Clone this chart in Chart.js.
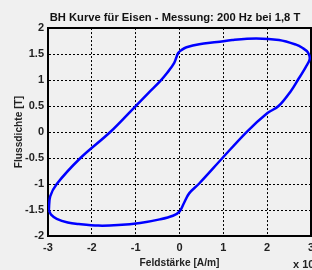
<!DOCTYPE html>
<html>
<head>
<meta charset="utf-8">
<script src="https://cdn.jsdelivr.net/npm/chart.js@4"></script>
<style>
  html, body { margin: 0; padding: 0; background: #f0f0f0; overflow: hidden; }
  #wrap { width: 312px; height: 270px; overflow: hidden; }
</style>
</head>
<body>
<div id="wrap"><canvas id="chart" width="350" height="270"></canvas></div>
<script>
// hysteresis loop, H in 10^4 A/m, B in T
const fieldStrength = [-2.98, -2.93, -2.80, -2.55, -2.30, -1.85, -1.40, -0.90, -0.45, -0.15, 0.00,
    0.10, 0.22, 0.45, 0.98, 1.53, 2.00, 2.26, 2.55, 2.70, 2.88, 2.97, 2.93, 2.80, 2.66, 2.27,
    1.75, 1.20, 0.86, 0.45, 0.16, 0.05, -0.03, -0.12, -0.28, -0.44, -0.70, -1.00, -1.58, -2.26,
    -2.80, -2.95, -2.98];
const fluxDensity = [-1.50, -1.59, -1.67, -1.74, -1.77, -1.80, -1.79, -1.75, -1.68, -1.61, -1.53,
    -1.37, -1.18, -0.99, -0.50, 0.00, 0.36, 0.50, 0.80, 1.00, 1.25, 1.40, 1.53, 1.62, 1.68, 1.77,
    1.80, 1.77, 1.73, 1.69, 1.63, 1.58, 1.52, 1.33, 1.14, 0.98, 0.76, 0.50, 0.00, -0.50,
    -1.00, -1.24, -1.50];

const xTickValues = [-3, -2, -1, 0, 1, 2, 3];
const xTickLabels = ['-3', '-2', '-1', '0', '1', '2', '3'];
const yTickValues = [-2, -1.5, -1, -0.5, 0, 0.5, 1, 1.5, 2];
const yTickLabels = ['-2', '-1.5', '-1', '-0.5', '0', '0.5', '1', '1.5', '2'];

const FONT = "'Liberation Sans Narrow', 'Arial Narrow', 'Liberation Sans', sans-serif";

const points = fieldStrength.map((h, i) => ({x: h, y: fluxDensity[i]}));

// "x 10^4" exponent note under the x axis
const exponentNote = {
    id: 'exponentNote',
    afterDraw(c) {
        const ctx = c.ctx;
        ctx.save();
        ctx.fillStyle = '#222';
        ctx.font = 'bold 11px ' + FONT;
        ctx.textBaseline = 'alphabetic';
        ctx.fillText('x 10', 293, 268);
        ctx.font = 'bold 8px ' + FONT;
        ctx.fillText('4', 314, 261);
        ctx.restore();
    }
};

new Chart(document.querySelector('#chart').getContext('2d'), {
    type: 'scatter',
    data: {
        datasets: [{
            label: 'BH',
            data: points,
            showLine: true,
            borderColor: '#0000ff',
            borderWidth: 2.5,
            pointRadius: 0,
            tension: 0.35
        }]
    },
    options: {
        responsive: false,
        animation: false,
        devicePixelRatio: 1,
        layout: { padding: 0 },
        plugins: {
            legend: { display: false },
            tooltip: { enabled: false },
            title: {
                display: true,
                text: 'BH Kurve für Eisen - Messung: 200 Hz bei 1,8 T',
                color: '#111',
                font: { family: FONT, size: 11.2, weight: 'bold' },
                padding: { top: 11, bottom: 3.6 }
            }
        },
        scales: {
            x: {
                type: 'linear',
                min: -3, max: 3,
                afterBuildTicks: s => { s.ticks = xTickValues.map(v => ({value: v})); },
                afterFit: s => { s.height = 34; },
                ticks: {
                    padding: 5,
                    color: '#222',
                    font: { family: FONT, size: 11, weight: 'bold' },
                    callback: (v, i) => xTickLabels[i]
                },
                grid: { color: '#000', lineWidth: 1, drawTicks: false },
                border: { display: true, color: '#000', width: 2, dash: [2, 2] },
                title: {
                    display: true,
                    text: 'Feldstärke [A/m]',
                    color: '#222',
                    font: { family: FONT, size: 10.2, weight: 'bold' },
                    padding: { top: 0, bottom: 1 }
                }
            },
            xTop: {
                type: 'linear',
                position: 'top',
                min: -3, max: 3,
                afterFit: s => { s.height = 0; },
                ticks: { display: false },
                grid: { display: false },
                border: { display: true, color: '#000', width: 2 }
            },
            y: {
                type: 'linear',
                min: -2, max: 2,
                afterBuildTicks: s => { s.ticks = yTickValues.map(v => ({value: v})); },
                afterFit: s => { s.width = 48; },
                ticks: {
                    padding: 4,
                    color: '#222',
                    font: { family: FONT, size: 11, weight: 'bold' },
                    callback: (v, i) => yTickLabels[i]
                },
                grid: { color: '#000', lineWidth: 1, drawTicks: false },
                border: { display: true, color: '#000', width: 2, dash: [2, 2] },
                title: {
                    display: true,
                    text: 'Flussdichte [T]',
                    color: '#222',
                    font: { family: FONT, size: 10.2, weight: 'bold' },
                    padding: { top: 13, bottom: 0 }
                }
            },
            yRight: {
                type: 'linear',
                position: 'right',
                min: -2, max: 2,
                afterFit: s => { s.width = 39; },
                ticks: { display: false },
                grid: { display: false },
                border: { display: true, color: '#000', width: 2 }
            }
        }
    },
    plugins: [exponentNote]
});
</script>
</body>
</html>
